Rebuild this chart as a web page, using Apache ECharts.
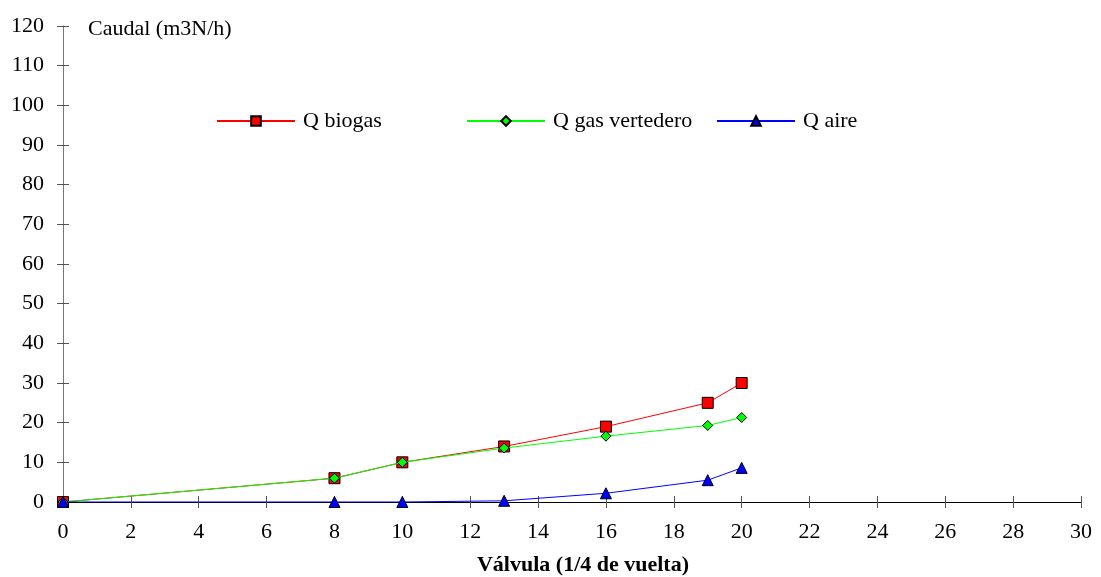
<!DOCTYPE html>
<html>
<head>
<meta charset="utf-8">
<script src="https://cdn.jsdelivr.net/npm/echarts@6/dist/echarts.min.js"></script>
<style>html,body{margin:0;padding:0;background:#fff}#c{width:1101px;height:577px}</style>
</head>
<body>
<div id="c"></div>
<script>
const valvula = [0, 8, 10, 13, 16, 19, 20];
const qBiogas = [0, 6, 10, 14, 19, 25, 30];
const qGasVertedero = [0, 6, 10, 13.6, 16.6, 19.3, 21.3];
const qAire = [0, 0, 0, 0.3, 2.2, 5.5, 8.6];
const seriesNames = ['Q biogas', 'Q gas vertedero', 'Q aire'];
const xTitle = 'Válvula (1/4 de vuelta)';
const yTitle = 'Caudal (m3N/h)';

const font = 'Liberation Serif';
const fs = 22;
const pairs = ys => valvula.map((x, i) => [x, ys[i]]);
const chart = echarts.init(document.getElementById('c'));
const axisX = (show) => ({
  type: 'value', min: 0, max: 30, interval: 2, position: 'bottom',
  axisLine: { show: show, onZero: false, lineStyle: { color: '#000', width: 1 } },
  axisTick: { show: true, inside: !show, length: 6, lineStyle: { color: '#555' } },
  axisLabel: { show: show, color: '#000', fontFamily: font, fontSize: fs, margin: 19 },
  splitLine: { show: false },
  name: show ? xTitle : '', nameLocation: 'middle', nameGap: 52,
  nameTextStyle: { color: '#000', fontFamily: font, fontSize: fs, fontWeight: 'bold', padding: [0, 0, 0, 22] }
});
const axisY = (show) => ({
  type: 'value', min: 0, max: 120, interval: 10, position: 'left',
  axisLine: { show: show, onZero: false, lineStyle: { color: '#777', width: 1 } },
  axisTick: { show: true, inside: !show, length: 6, lineStyle: { color: '#555' } },
  axisLabel: { show: show, color: '#000', fontFamily: font, fontSize: fs, margin: 19 },
  splitLine: { show: false }
});
const mk = (name, data, color, symbol, size, z) => ({
  name, type: 'line', data: pairs(data), symbol, symbolSize: size,
  xAxisIndex: 0, yAxisIndex: 0, z,
  lineStyle: { color, width: 1 },
  itemStyle: { color, borderColor: '#000', borderWidth: 1 },
  emphasis: { disabled: true }, animation: false
});
const legend = (name, left) => ({
  data: [name], left, top: 105, orient: 'horizontal',
  itemWidth: 78, itemHeight: 12, itemGap: 0,
  textStyle: { color: '#000', fontFamily: font, fontSize: fs, padding: [0, 0, 0, 3] },
  selectedMode: false
});
chart.setOption({
  animation: false,
  backgroundColor: '#fff',
  grid: { left: 63, right: 20, top: 26, bottom: 75, containLabel: false, outerBoundsMode: 'none' },
  xAxis: [axisX(true), axisX(false)],
  yAxis: [axisY(true), axisY(false)],
  legend: [legend(seriesNames[0], 211), legend(seriesNames[1], 461), legend(seriesNames[2], 711)],
  graphic: [{ type: 'text', left: 88, top: 18, style: { text: yTitle, fill: '#000', font: fs + 'px "Liberation Serif"' } }],
  series: [
    mk(seriesNames[0], qBiogas, '#ff0000', 'rect', 11, 2),
    mk(seriesNames[1], qGasVertedero, '#00ff00', 'diamond', 10, 3),
    mk(seriesNames[2], qAire, '#0000ff', 'triangle', 11, 4),
    { type: 'line', data: [], xAxisIndex: 1, yAxisIndex: 1 }
  ]
});
</script>
</body>
</html>
